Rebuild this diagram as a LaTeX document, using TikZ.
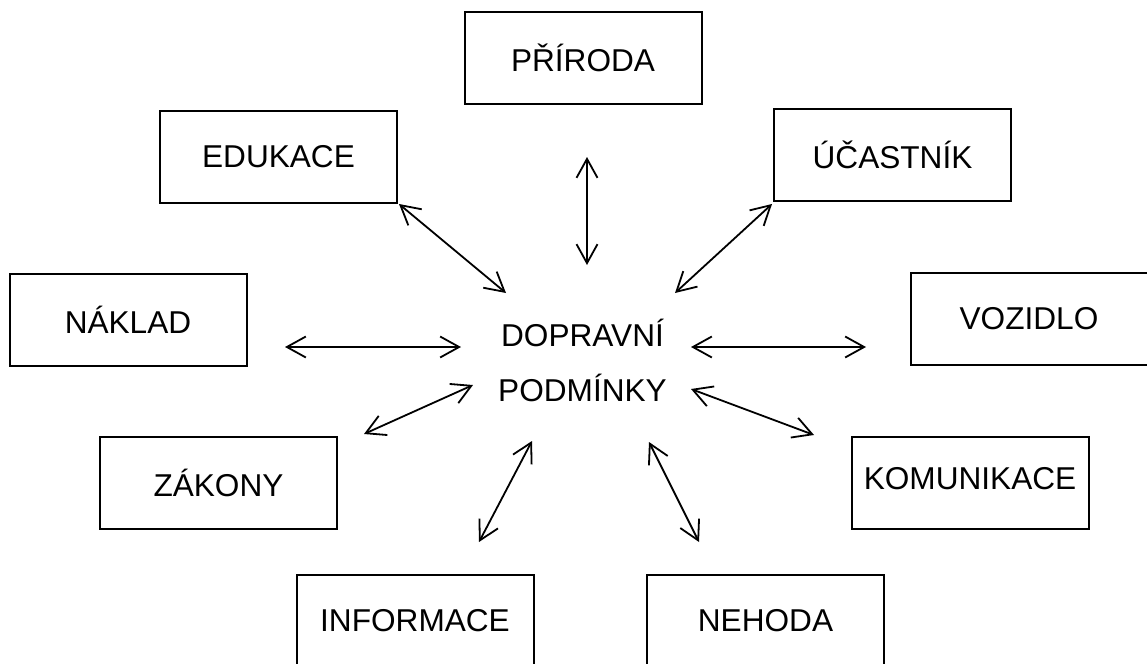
\documentclass[tikz,border=0pt]{standalone}
\usepackage{fontspec}
\setmainfont{Liberation Sans}
\usepackage{tikz}
\usetikzlibrary{arrows.meta, positioning}

\begin{document}
\begin{tikzpicture}[
    x=0.5pt, y=-0.5pt,
    topic/.style={rectangle, minimum width=118.5pt, minimum height=46pt, inner sep=0pt, align=center, draw=black, line width=1pt, font=\fontsize{15.8}{18}\selectfont},
    hub/.style={align=center, inner sep=0pt, font=\fontsize{15.8}{27.5}\selectfont},
    line/.style={draw=black, line width=0.9pt, {Straight Barb[length=9.5pt, width=10.5pt]}-{Straight Barb[length=9.5pt, width=10.5pt]}}
]
    \useasboundingbox (0,0) rectangle (1147,664);

    \node[hub] (hub) at (582.5,360) {DOPRAVNÍ\\PODMÍNKY};
    \node[topic] (priroda) at (583,58) {PŘÍRODA};
    \node[topic] (edukace) at (278.5,156.5) {EDUKACE};
    \node[topic] (ucastnik) at (892.5,154.5) {ÚČASTNÍK};
    \node[topic] (naklad) at (128,320) {NÁKLAD};
    \node[topic] (vozidlo) at (1029,318.5) {VOZIDLO};
    \node[topic] (zakony) at (218.5,482.5) {ZÁKONY};
    \node[topic] (komunikace) at (970,482.5) {\raisebox{4.5pt}{KOMUNIKACE}};
    \node[topic] (informace) at (415,621) {INFORMACE};
    \node[topic] (nehoda) at (765.5,621) {NEHODA};

    % Arrow ends
    \coordinate (priroda-end) at (587,157);   \coordinate (priroda-hub) at (587,265);
    \coordinate (edukace-end) at (399,204);   \coordinate (edukace-hub) at (506,293);
    \coordinate (ucastnik-end) at (772,204);  \coordinate (ucastnik-hub) at (675,293);
    \coordinate (naklad-end) at (285,347);    \coordinate (naklad-hub) at (461,347);
    \coordinate (vozidlo-end) at (866,347);   \coordinate (vozidlo-hub) at (691,347);
    \coordinate (zakony-end) at (364,434);    \coordinate (zakony-hub) at (473,385);
    \coordinate (komunikace-end) at (814,435);\coordinate (komunikace-hub) at (691,389);
    \coordinate (informace-end) at (479,542); \coordinate (informace-hub) at (532,441);
    \coordinate (nehoda-end) at (699,542);    \coordinate (nehoda-hub) at (649,442);

    % Connectors
    \draw[line] (priroda-end) -- (priroda-hub);
    \draw[line] (edukace-end) -- (edukace-hub);
    \draw[line] (ucastnik-end) -- (ucastnik-hub);
    \draw[line] (naklad-end) -- (naklad-hub);
    \draw[line] (vozidlo-hub) -- (vozidlo-end);
    \draw[line] (zakony-end) -- (zakony-hub);
    \draw[line] (komunikace-hub) -- (komunikace-end);
    \draw[line] (informace-end) -- (informace-hub);
    \draw[line] (nehoda-hub) -- (nehoda-end);
\end{tikzpicture}
\end{document}
